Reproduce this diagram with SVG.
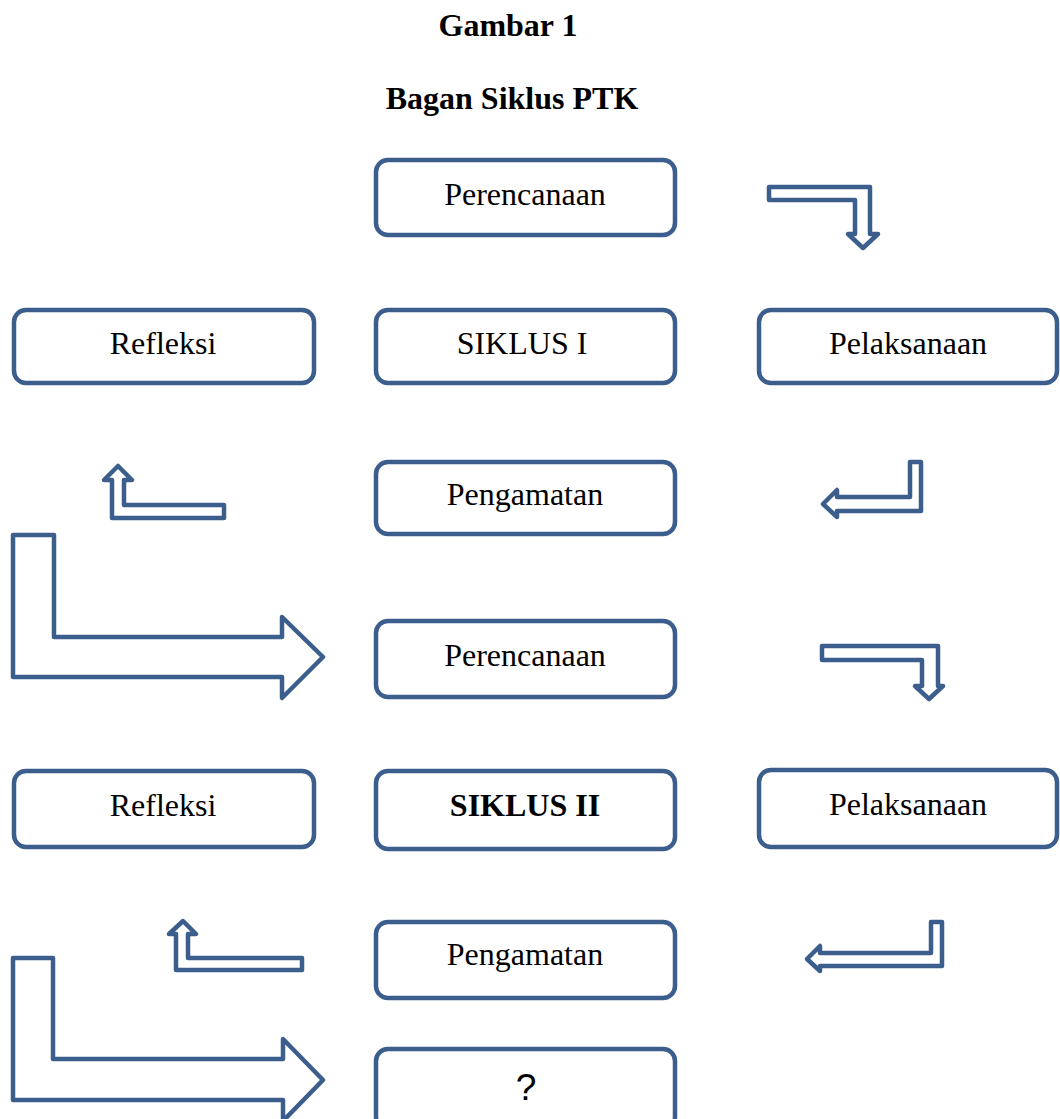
<svg xmlns="http://www.w3.org/2000/svg" width="1060" height="1119" viewBox="0 0 1060 1119">
<style>
.box{fill:#fff;stroke:#3B5E8C;stroke-width:4.5}
.arr{fill:#fff;stroke:#3B5E8C;stroke-width:4.5;stroke-linejoin:round}
.t{font-family:"Liberation Serif","Times New Roman",serif;font-size:32px;fill:#000;text-anchor:middle}
.b{font-weight:bold}
.s{font-family:"Liberation Sans",Arial,sans-serif;font-size:37px;fill:#000;text-anchor:middle}
</style>
<rect width="1060" height="1119" fill="#fff"/>
<g id="title">
<text class="t b" x="508" y="36">Gambar 1</text>
<text class="t b" x="512" y="109">Bagan Siklus PTK</text>
</g>
<g id="perencanaan1"><rect class="box" x="376" y="160" width="299" height="75" rx="12"/><text class="t" x="525" y="205">Perencanaan</text></g>
<g id="refleksi1"><rect class="box" x="14" y="310" width="300" height="73" rx="12"/><text class="t" x="163" y="354">Refleksi</text></g>
<g id="siklus1"><rect class="box" x="376" y="310" width="299" height="73" rx="12"/><text class="t" x="522" y="354">SIKLUS I</text></g>
<g id="pelaksanaan1"><rect class="box" x="759" y="310" width="298" height="73" rx="12"/><text class="t" x="908" y="354">Pelaksanaan</text></g>
<g id="pengamatan1"><rect class="box" x="376" y="462" width="299" height="72" rx="12"/><text class="t" x="525" y="505">Pengamatan</text></g>
<g id="perencanaan2"><rect class="box" x="376" y="621" width="299" height="76" rx="12"/><text class="t" x="525" y="666">Perencanaan</text></g>
<g id="refleksi2"><rect class="box" x="14" y="771" width="300" height="76" rx="12"/><text class="t" x="163" y="816">Refleksi</text></g>
<g id="siklus2"><rect class="box" x="376" y="771" width="299" height="78" rx="12"/><text class="t b" x="525" y="816">SIKLUS II</text></g>
<g id="pelaksanaan2"><rect class="box" x="759" y="770" width="298" height="77" rx="12"/><text class="t" x="908" y="815">Pelaksanaan</text></g>
<g id="pengamatan2"><rect class="box" x="376" y="922" width="299" height="76" rx="12"/><text class="t" x="525" y="965">Pengamatan</text></g>
<g id="tanya"><rect class="box" x="376" y="1049" width="299" height="80" rx="12"/><text class="s" x="526" y="1100">?</text></g>
<g id="connectors">
<path class="arr" d="M769,187 L870,187 L870,234 L878,234 L863,248 L848,234 L855,234 L855,200 L769,200 Z"/>
<path class="arr" d="M921,462 L921,511 L837,511 L837,517 L823,504 L837,490 L837,497 L910,497 L910,462 Z"/>
<path class="arr" d="M118,466 L132,480 L124,480 L124,505 L224,505 L224,518 L112,518 L112,480 L104,480 Z"/>
<path class="arr" d="M13,535 L54,535 L54,637 L282,637 L282,617 L323,657 L282,698 L282,677 L13,677 Z"/>
<path class="arr" d="M822,646 L938,646 L938,686 L943,686 L929,699 L915,686 L922,686 L922,660 L822,660 Z"/>
<path class="arr" d="M942,922 L942,966 L820,966 L820,971 L807,959 L820,946 L820,953 L931,953 L931,922 Z"/>
<path class="arr" d="M183,921 L196,934 L188,934 L188,958 L302,958 L302,970 L176,970 L176,934 L169,934 Z"/>
<path class="arr" d="M13,958 L53,958 L53,1059 L283,1059 L283,1039 L323,1080 L283,1121 L283,1100 L13,1100 Z"/>
</g>
</svg>
